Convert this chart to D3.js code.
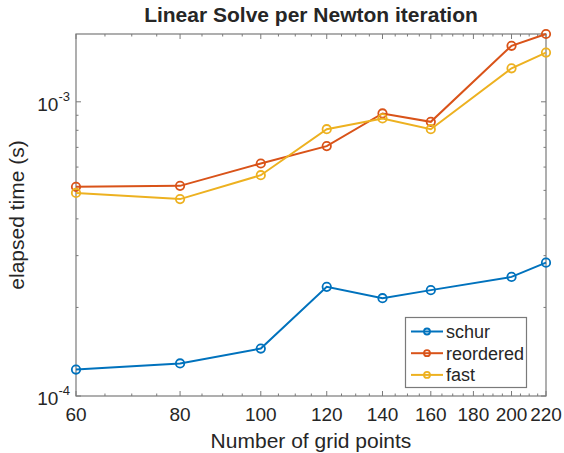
<!DOCTYPE html>
<html><head><meta charset="utf-8">
<script src="https://cdn.jsdelivr.net/npm/d3@7"></script>
<style>body{margin:0;background:#fff}svg{display:block}text{font-family:"Liberation Sans",Arial,sans-serif;fill:#262626}</style>
</head><body><svg id="c" width="564" height="453"></svg>
<script>
const gridPoints = [60, 80, 100, 120, 140, 160, 200, 220];
const schur     = [1.23e-4, 1.29e-4, 1.45e-4, 2.35e-4, 2.15e-4, 2.29e-4, 2.54e-4, 2.84e-4];
const reordered = [5.14e-4, 5.18e-4, 6.17e-4, 7.07e-4, 9.13e-4, 8.55e-4, 1.55e-3, 1.70e-3];
const fast      = [4.90e-4, 4.67e-4, 5.63e-4, 8.07e-4, 8.78e-4, 8.07e-4, 1.30e-3, 1.47e-3];
const seriesNames = ["schur", "reordered", "fast"];
const xTicks = [60, 80, 100, 120, 140, 160, 180, 200, 220];
const yTicks = [1e-4, 1e-3];
const title = "Linear Solve per Newton iteration";
const xLabel = "Number of grid points";
const yLabel = "elapsed time (s)";

const colors = ["#0072BD", "#D95319", "#EDB120"];
const seriesVals = [schur, reordered, fast];
const L = 76, R = 546, T = 34, B = 396;
const svg = d3.select("#c");
const x = d3.scaleLog().domain([60, 220]).range([L, R]);
const y = d3.scaleLog().domain([1e-4, 1.70e-3]).range([B, T]);

const axisCol = "#7a7a7a";
const xMinor = d3.range(65, 220, 5).filter(v => !xTicks.includes(v));
const yMinor = [];
[1e-4, 1e-3].forEach(d => { for (let k = 2; k <= 9; k++) { const v = d * k; if (v < 1.70e-3) yMinor.push(v); } });

const g = svg.append("g");
function tick(x1, y1, x2, y2) {
  g.append("line").attr("x1", x1).attr("y1", y1).attr("x2", x2).attr("y2", y2)
   .attr("stroke", axisCol).attr("stroke-width", 1);
}
xTicks.forEach(v => { const px = x(v); tick(px, B, px, B - 5); tick(px, T, px, T + 5); });
xMinor.forEach(v => { const px = x(v); tick(px, B, px, B - 2.5); tick(px, T, px, T + 2.5); });
yTicks.forEach(v => { const py = y(v); tick(L, py, L + 5, py); tick(R, py, R - 5, py); });
yMinor.forEach(v => { const py = y(v); tick(L, py, L + 2.5, py); tick(R, py, R - 2.5, py); });
g.append("rect").attr("x", L).attr("y", T).attr("width", R - L).attr("height", B - T)
 .attr("fill", "none").attr("stroke", axisCol).attr("stroke-width", 1.2);

xTicks.forEach(v => {
  svg.append("text").attr("x", x(v)).attr("y", 421).attr("text-anchor", "middle")
     .attr("font-size", 19).text(v);
});
yTicks.forEach(v => {
  const e = Math.round(Math.log10(v));
  const t = svg.append("text").attr("x", L - 6).attr("y", y(v) + 9).attr("text-anchor", "end").attr("font-size", 19);
  t.append("tspan").text("10");
  t.append("tspan").attr("dy", -10).attr("font-size", 13).text("-" + Math.abs(e));
});

const line = d3.line().x(d => x(d[0])).y(d => y(d[1]));
seriesVals.forEach((vals, i) => {
  const data = gridPoints.map((gp, j) => [gp, vals[j]]);
  svg.append("path").datum(data).attr("d", line).attr("fill", "none")
     .attr("stroke", colors[i]).attr("stroke-width", 2);
  svg.selectAll(null).data(data).enter().append("circle")
     .attr("cx", d => x(d[0])).attr("cy", d => y(d[1])).attr("r", 4.2)
     .attr("fill", "none").attr("stroke", colors[i]).attr("stroke-width", 1.8);
});

svg.append("text").attr("x", (L + R) / 2).attr("y", 22).attr("text-anchor", "middle")
   .attr("font-size", 21).attr("font-weight", "bold").attr("fill", "#000").text(title);
svg.append("text").attr("x", (L + R) / 2).attr("y", 448).attr("text-anchor", "middle")
   .attr("font-size", 21).text(xLabel);
svg.append("text").attr("transform", `translate(24,${(T + B) / 2}) rotate(-90)`).attr("text-anchor", "middle")
   .attr("font-size", 21).text(yLabel);

const lg = svg.append("g");
lg.append("rect").attr("x", 405.5).attr("y", 317.5).attr("width", 121).attr("height", 70)
  .attr("fill", "#fff").attr("stroke", axisCol).attr("stroke-width", 1.2);
seriesNames.forEach((n, i) => {
  const yy = 331.5 + i * 21.7;
  lg.append("line").attr("x1", 411).attr("x2", 443).attr("y1", yy).attr("y2", yy)
    .attr("stroke", colors[i]).attr("stroke-width", 2);
  lg.append("circle").attr("cx", 427).attr("cy", yy).attr("r", 3)
    .attr("fill", "none").attr("stroke", colors[i]).attr("stroke-width", 1.8);
  lg.append("text").attr("x", 446).attr("y", yy + 6.5).attr("font-size", 18).text(n);
});
</script></body></html>
